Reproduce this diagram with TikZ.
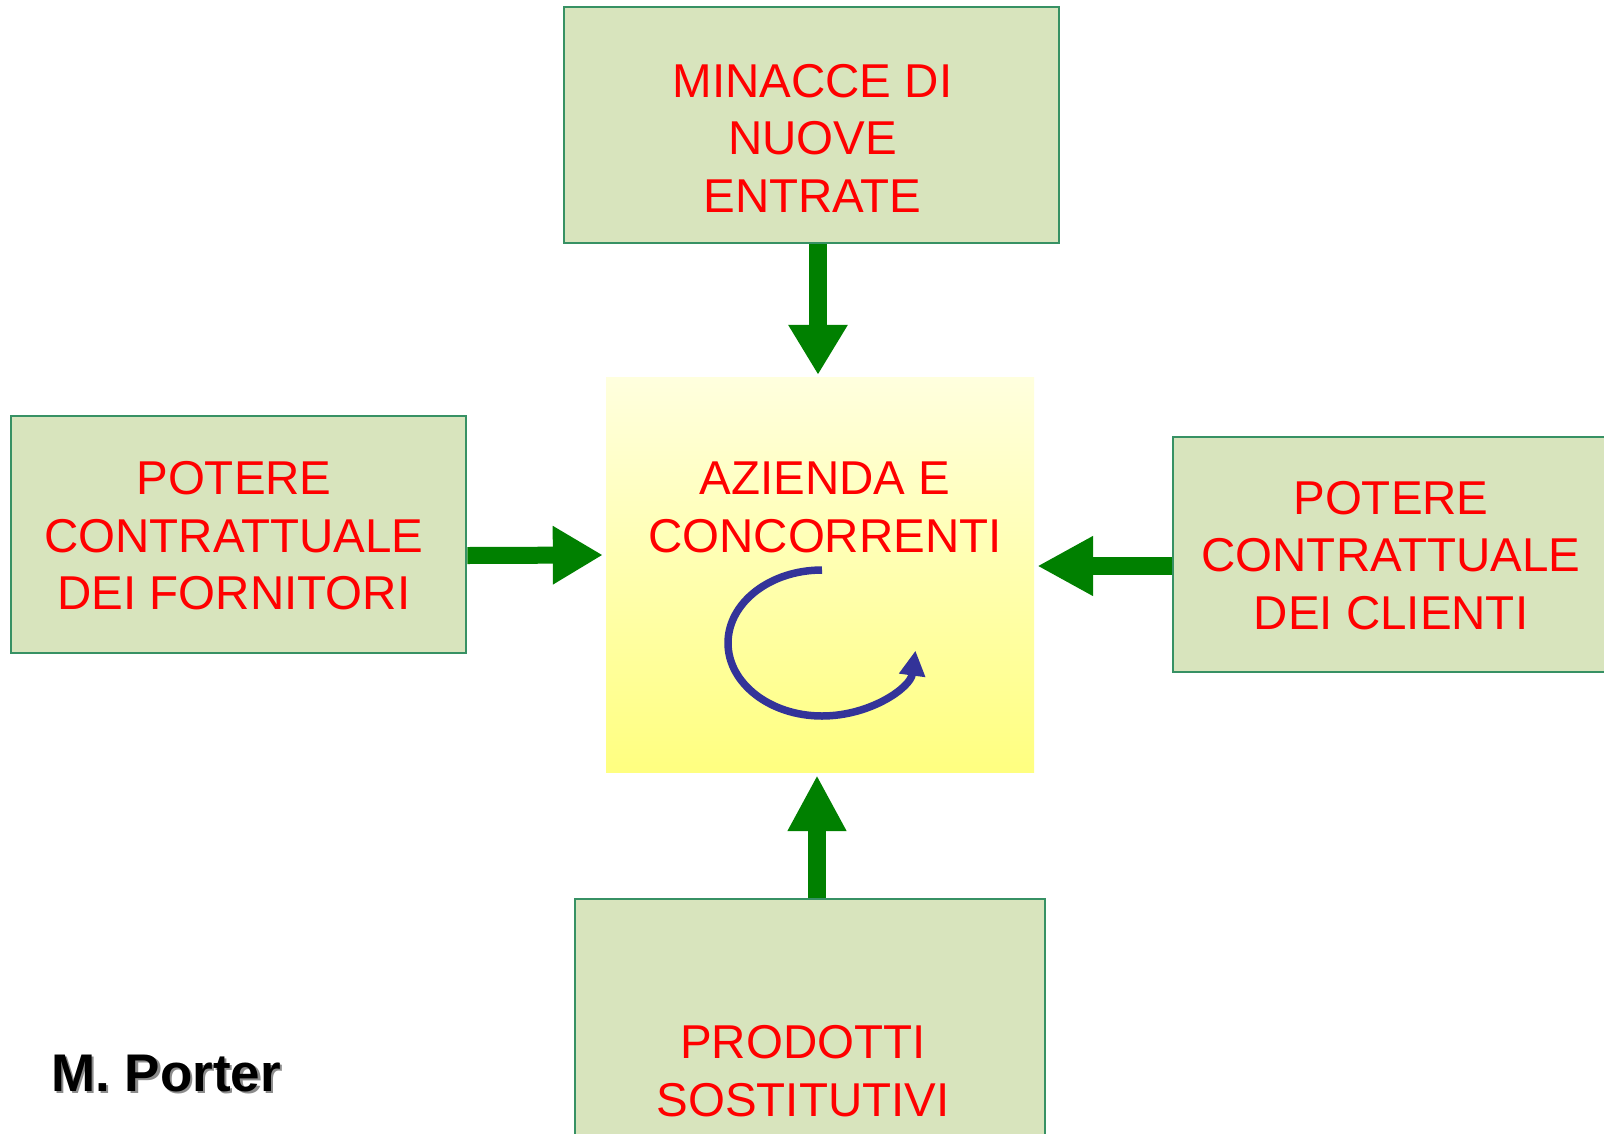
\documentclass[tikz,border=0pt]{standalone}
\usepackage{fontspec}
\setmainfont{Liberation Sans}
\usetikzlibrary{arrows.meta}
\definecolor{boxfill}{RGB}{216,228,189}
\definecolor{boxline}{RGB}{55,145,100}
\definecolor{txtred}{RGB}{255,0,0}
\definecolor{arrgreen}{RGB}{0,128,0}
\definecolor{arcblue}{RGB}{51,51,153}
\definecolor{ytop}{RGB}{255,255,222}
\definecolor{ybot}{RGB}{255,255,128}
\tikzset{
  forcebox/.style={draw=boxline, line width=2.6pt, fill=boxfill, inner sep=0pt},
  forcetxt/.style={text=txtred, align=center, inner sep=0pt, font=\fontsize{47.5}{57.5}\selectfont},
  bigarrow/.style={draw=arrgreen, line width=18pt},
}
\begin{document}
\begin{tikzpicture}[x=1pt,y=-1pt]
\useasboundingbox (0,0) rectangle (1604,1133);
\fill[white] (0,0) rectangle (1604,1133);
% boxes
\node[forcebox, minimum width=495pt, minimum height=236pt] (top) at (811.5,125) {};
\node[forcebox, minimum width=455pt, minimum height=237pt] (left) at (238.5,534.5) {};
\node[forcebox, minimum width=440pt, minimum height=235pt] (right) at (1393,554.5) {};
\node[forcebox, minimum width=470pt, minimum height=250pt] (bottom) at (810,1024) {};
\node[inner sep=0pt, minimum width=428pt, minimum height=395pt, top color=ytop, bottom color=ybot] (center) at (820,574.5) {};
% texts
\node[forcetxt] (tTop) at (812.5,138) {MINACCE DI\\NUOVE\\ENTRATE};
\node[forcetxt] (tLeft) at (234,536) {POTERE\\CONTRATTUALE\\DEI FORNITORI};
\node[forcetxt] (tRight) at (1391,555.5) {POTERE\\CONTRATTUALE\\DEI CLIENTI};
\node[forcetxt] (tCenter) at (825,507.5) {AZIENDA E\\CONCORRENTI};
\node[forcetxt] (tBottom) at (803,1071) {PRODOTTI\\SOSTITUTIVI};
% arrows
\draw[bigarrow, -{Triangle[width=56pt,length=50pt]}] ([xshift=6.5pt]top.south) -- ([xshift=-2pt,yshift=2pt]center.north);
\draw[bigarrow, line width=17pt, -{Triangle[width=55pt,length=50pt]}] ([yshift=-21pt]left.east) -- ([xshift=-3pt,yshift=19.5pt]center.west);
\draw[bigarrow, -{Triangle[width=56pt,length=56pt]}] ([yshift=-11.5pt]right.west) -- ([xshift=3pt,yshift=8.5pt]center.east);
\draw[bigarrow, -{Triangle[width=55pt,length=56pt]}] ([xshift=7pt]bottom.north) -- ([xshift=-3pt,yshift=-3pt]center.south);
% rotation arc
\draw[arcblue, line width=7.5pt, -{Triangle[width=25pt,length=25pt]}] (822,570) arc[start angle=90, end angle=354, x radius=94pt, y radius=73pt];
% author
\node[anchor=base west, inner sep=0pt, text=black!45, font=\bfseries\fontsize{53}{60}\selectfont] (authsh) at (53.5,1093.5) {M. Porter};
\node[anchor=base west, inner sep=0pt, text=black, font=\bfseries\fontsize{53}{60}\selectfont] (auth) at (51,1091) {M. Porter};
\end{tikzpicture}
\end{document}
